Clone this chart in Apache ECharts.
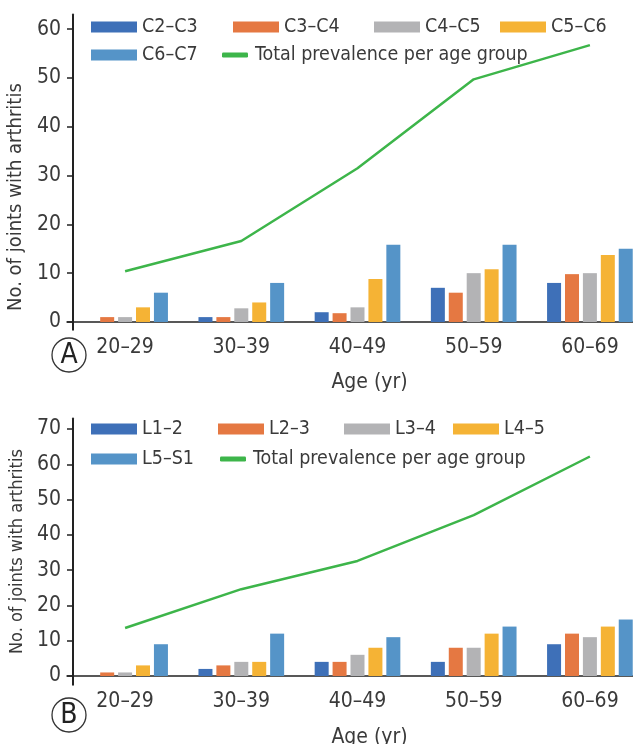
<!DOCTYPE html>
<html>
<head>
<meta charset="utf-8">
<script src="https://cdn.jsdelivr.net/npm/echarts@6/dist/echarts.min.js"></script>
<style>
html,body{margin:0;padding:0;background:#fff;}
#chart{width:633px;height:744px;}
</style>
</head>
<body>
<div id="chart"></div>
<script>
// ---- data ----
const categories = ['20–29', '30–39', '40–49', '50–59', '60–69'];
const yTicksA = [0, 10, 20, 30, 40, 50, 60];
const yTicksB = [0, 10, 20, 30, 40, 50, 60, 70];

const cervNames = ['C2–C3', 'C3–C4', 'C4–C5', 'C5–C6', 'C6–C7'];
const c2c3 = [0, 1, 2, 7, 8];
const c3c4 = [1, 1, 1.8, 6, 9.8];
const c4c5 = [1, 2.8, 3, 10, 10];
const c5c6 = [3, 4, 8.8, 10.8, 13.7];
const c6c7 = [6, 8, 15.8, 15.8, 15];
const totalA = [10.4, 16.6, 31.5, 49.7, 56.7];

const lumbNames = ['L1–2', 'L2–3', 'L3–4', 'L4–5', 'L5–S1'];
const l1l2 = [0, 2, 4, 4, 9];
const l2l3 = [1, 3, 4, 8, 12];
const l3l4 = [1, 4, 6, 8, 11];
const l4l5 = [3, 4, 8, 12, 14];
const l5s1 = [9, 12, 11, 14, 16];
const totalB = [13.6, 24.6, 32.6, 45.6, 62.2];

const totalName = 'Total prevalence per age group';

// ---- styles ----
const FONT = "'DejaVu Sans Condensed', 'Roboto', sans-serif";
const TXT = '#3a3a3a';
const AX = '#222';
const colors = ['#3e70b8', '#e57842', '#b3b3b5', '#f5b335', '#5594c8'];
const green = '#3db54a';

const cervData = [c2c3, c3c4, c4c5, c5c6, c6c7];
const lumbData = [l1l2, l2l3, l3l4, l4l5, l5s1];

function barSeries(names, data, gi) {
  return names.map((n, i) => ({
    name: n, type: 'bar', xAxisIndex: gi, yAxisIndex: gi,
    data: data[i], barWidth: 14, barGap: '28%',
    itemStyle: { color: colors[i] }, silent: true
  }));
}
function lineSeries(data, gi) {
  return {
    name: totalName, type: 'line', xAxisIndex: gi, yAxisIndex: gi,
    data: data, symbol: 'none', lineStyle: { color: green, width: 2.5 },
    itemStyle: { color: green }, silent: true, z: 3
  };
}
function legendItem(name, left, top, isLine) {
  return {
    data: [{ name: name, icon: isLine ? 'roundRect' : 'rect' }],
    left: left, top: top, padding: 0, selectedMode: false,
    itemWidth: isLine ? 26 : 46, itemHeight: isLine ? 5 : 11,
    textStyle: { fontFamily: FONT, fontSize: 19.5, color: TXT, padding: [0, 0, 0, isLine ? 2 : 0] }
  };
}
function xAx(gi, nameGap, margin) {
  return {
    type: 'category', gridIndex: gi, data: categories,
    axisLine: { onZero: true, lineStyle: { color: AX, width: 1.5 } },
    axisTick: { show: false },
    axisLabel: { fontFamily: FONT, fontSize: 21, color: TXT, margin: margin },
    name: 'Age (yr)', nameLocation: 'middle', nameGap: nameGap,
    nameTextStyle: { fontFamily: FONT, fontSize: 21, color: TXT, padding: [0, 0, 0, 24] }
  };
}
function yAx(gi, min, max, ticks, nameSize, namePad) {
  return {
    type: 'value', gridIndex: gi, min: min, max: max, offset: -6,
    axisLine: { show: true, lineStyle: { color: AX, width: 2 } },
    axisTick: { show: true, length: 6, customValues: ticks, lineStyle: { color: AX, width: 1.5 } },
    axisLabel: { fontFamily: FONT, fontSize: 21, color: TXT, margin: 12, customValues: ticks },
    splitLine: { show: false },
    name: 'No. of joints with arthritis', nameLocation: 'middle', nameGap: 38,
    nameTextStyle: { fontFamily: FONT, fontSize: nameSize, color: TXT, padding: namePad }
  };
}

const option = {
  animation: false,
  backgroundColor: '#fff',
  grid: [
    { left: 67, width: 581, top: 14.4, height: 315.4, outerBoundsMode: 'none', containLabel: false },
    { left: 67, width: 581, top: 418.4, height: 266.4, outerBoundsMode: 'none', containLabel: false }
  ],
  xAxis: [xAx(0, 42, 7), xAx(1, 42, 6)],
  yAxis: [
    yAx(0, -1.6, 63, yTicksA, 20, [0, 50, 0, 0]),
    yAx(1, -2.5, 73, yTicksB, 18, [0, 0, 0, 0])
  ],
  legend: [
    legendItem(cervNames[0], 91, 17),
    legendItem(cervNames[1], 233, 17),
    legendItem(cervNames[2], 374, 17),
    legendItem(cervNames[3], 500, 17),
    legendItem(cervNames[4], 91, 45),
    legendItem(totalName, 222, 45, true),
    legendItem(lumbNames[0], 91, 419),
    legendItem(lumbNames[1], 218, 419),
    legendItem(lumbNames[2], 344, 419),
    legendItem(lumbNames[3], 453, 419),
    legendItem(lumbNames[4], 91, 449),
    legendItem(totalName, 220, 449, true)
  ],
  graphic: [
    { type: 'circle', shape: { cx: 69, cy: 355, r: 17 }, style: { fill: 'none', stroke: '#333', lineWidth: 1.3 } },
    { type: 'text', x: 69, y: 356, style: { text: 'A', font: "28px " + FONT, fill: '#222', align: 'center', verticalAlign: 'middle' } },
    { type: 'circle', shape: { cx: 69, cy: 715, r: 17 }, style: { fill: 'none', stroke: '#333', lineWidth: 1.3 } },
    { type: 'text', x: 69, y: 716, style: { text: 'B', font: "28px " + FONT, fill: '#222', align: 'center', verticalAlign: 'middle' } }
  ],
  series: [].concat(
    barSeries(cervNames, cervData, 0),
    [lineSeries(totalA, 0)],
    barSeries(lumbNames, lumbData, 1),
    [lineSeries(totalB, 1)]
  )
};

const chart = echarts.init(document.getElementById('chart'), null, { renderer: 'canvas' });
chart.setOption(option);
</script>
</body>
</html>
